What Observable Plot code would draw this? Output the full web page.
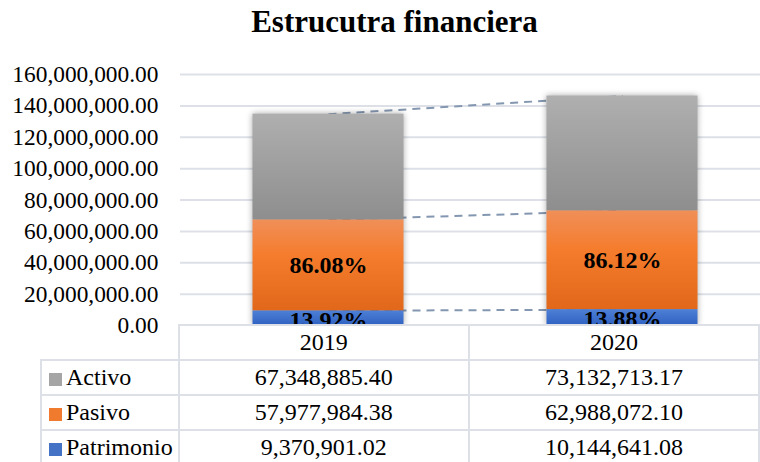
<!DOCTYPE html>
<html>
<head>
<meta charset="utf-8">
<script src="https://cdn.jsdelivr.net/npm/d3@7"></script>
<script src="https://cdn.jsdelivr.net/npm/@observablehq/plot@0.6"></script>
<style>
  body { margin:0; width:760px; height:462px; overflow:hidden; background:#fff; position:relative;
         font-family:"Liberation Serif", "Times New Roman", Times, serif; color:#000; }
  #title { position:absolute; left:0; top:0; width:789px; text-align:center; font-weight:bold;
           font-size:31px; line-height:44px; }
  #chart { position:absolute; left:0; top:0; }
  #tbl { position:absolute; left:40px; top:324px; border-collapse:collapse; table-layout:fixed;
         font-size:24px; }
  #tbl td { border:2px solid #dde1e7; height:33px; padding:0; text-align:center; background:#fff;
            white-space:nowrap; overflow:hidden; line-height:31px; }
  #tbl td.blank { border-left:none; border-top:none; background:transparent; }
  #tbl td.name { text-align:left; padding-left:7px; }
  .sw { display:inline-block; width:13px; height:13px; margin-right:4px; vertical-align:-1px; }
</style>
</head>
<body>
<div id="title">Estrucutra financiera</div>
<div id="chart"></div>
<table id="tbl"></table>
<script>
// ---------- data ----------
const years = ["2019", "2020"];
const seriesNames = ["Activo", "Pasivo", "Patrimonio"];        // table order
const stackOrder = ["Patrimonio", "Pasivo", "Activo"];         // bottom -> top
const activo = [67348885.40, 73132713.17];
const pasivo = [57977984.38, 62988072.10];
const patrimonio = [9370901.02, 10144641.08];
const pctPasivo = ["86.08%", "86.12%"];
const pctPatrimonio = ["13.92%", "13.88%"];
const yTicks = [0, 20000000, 40000000, 60000000, 80000000, 100000000, 120000000, 140000000, 160000000];
const yDomain = [0, 160000000];
const swatch = {Activo: "#a5a5a5", Pasivo: "#f07b2e", Patrimonio: "#4472c4"};

// ---------- derived tables ----------
const valuesBy = {Activo: activo, Pasivo: pasivo, Patrimonio: patrimonio};
const rows = [];
years.forEach((yr, i) => stackOrder.forEach(s =>
  rows.push({year: yr, series: s, value: valuesBy[s][i],
             labPas: s === "Pasivo" ? pctPasivo[i] : "",
             labPat: s === "Patrimonio" ? pctPatrimonio[i] : ""})));
// tops of each stacked segment, for the series lines
const tops = stackOrder.map((s, k) => {
  const cum = i => d3.sum(stackOrder.slice(0, k + 1), t => valuesBy[t][i]);
  return {series: s, y1: cum(0), y2: cum(1)};
});

const fmt = d3.format(",.2f");
const serif = "Liberation Serif, Times New Roman, Times, serif";
const labelStyle = {fontWeight: "bold", fontSize: 24, fontFamily: serif, fill: "#000"};

const plot = Plot.plot({
  width: 790,
  height: 340,
  marginLeft: 180,
  marginRight: 21,
  marginTop: 74,
  marginBottom: 15,
  style: {fontFamily: serif, fontSize: "23.4px", color: "#000", background: "transparent",
          overflow: "visible", maxWidth: "none"},
  x: {type: "band", domain: years, padding: 0, axis: null},
  y: {domain: yDomain, ticks: yTicks, tickFormat: fmt, tickSize: 0, tickPadding: 22, label: null},
  color: {domain: stackOrder, range: ["url(#gPat)", "url(#gPas)", "url(#gAct)"]},
  marks: [
    Plot.ruleY(yTicks, {stroke: "#dde1e7", strokeWidth: 2}),
    Plot.link(tops, {x1: () => years[0], x2: () => years[1], y1: "y1", y2: "y2",
      stroke: "#8497b0", strokeWidth: 2, strokeDasharray: "8,6"}),
    Plot.barY(rows, {x: "year", y: "value", z: "series", fill: "series", order: stackOrder,
      insetLeft: 71.5, insetRight: 71.5}),
    Plot.text(rows, Plot.stackY({x: "year", y: "value", z: "series", order: stackOrder,
      text: "labPas", ...labelStyle})),
    Plot.text(rows, Plot.stackY({x: "year", y: "value", z: "series", order: stackOrder,
      text: "labPat", dy: 2, ...labelStyle}))
  ]
});
document.getElementById("chart").appendChild(plot);

// gradients
const svg = d3.select(plot);
const defs = svg.insert("defs", ":first-child");
function grad(id, stops) {
  const g = defs.append("linearGradient").attr("id", id)
    .attr("x1", 0).attr("y1", 0).attr("x2", 0).attr("y2", 1);
  stops.forEach(([o, c]) => g.append("stop").attr("offset", o).attr("stop-color", c));
}
grad("gAct", [[0, "#afafaf"], [1, "#8e8e8e"]]);
grad("gPas", [[0, "#f08f59"], [0.4, "#f57c2c"], [1, "#e1681a"]]);
grad("gPat", [[0, "#4f80d6"], [1, "#2f62c2"]]);
svg.selectAll('g[aria-label="bar"]').style("filter", "drop-shadow(0px 0px 3px rgba(0,0,0,0.35))");

// data table
const tbl = d3.select("#tbl");
const cg = tbl.append("colgroup");
[138, 295, 295].forEach(w => cg.append("col").style("width", w + "px"));
const head = tbl.append("tr");
head.append("td").attr("class", "blank");
years.forEach(y => head.append("td").text(y));
seriesNames.forEach(s => {
  const tr = tbl.append("tr");
  const td = tr.append("td").attr("class", "name");
  td.append("span").attr("class", "sw").style("background", swatch[s]);
  td.append("span").text(s);
  valuesBy[s].forEach(v => tr.append("td").text(fmt(v)));
});
</script>
</body>
</html>
